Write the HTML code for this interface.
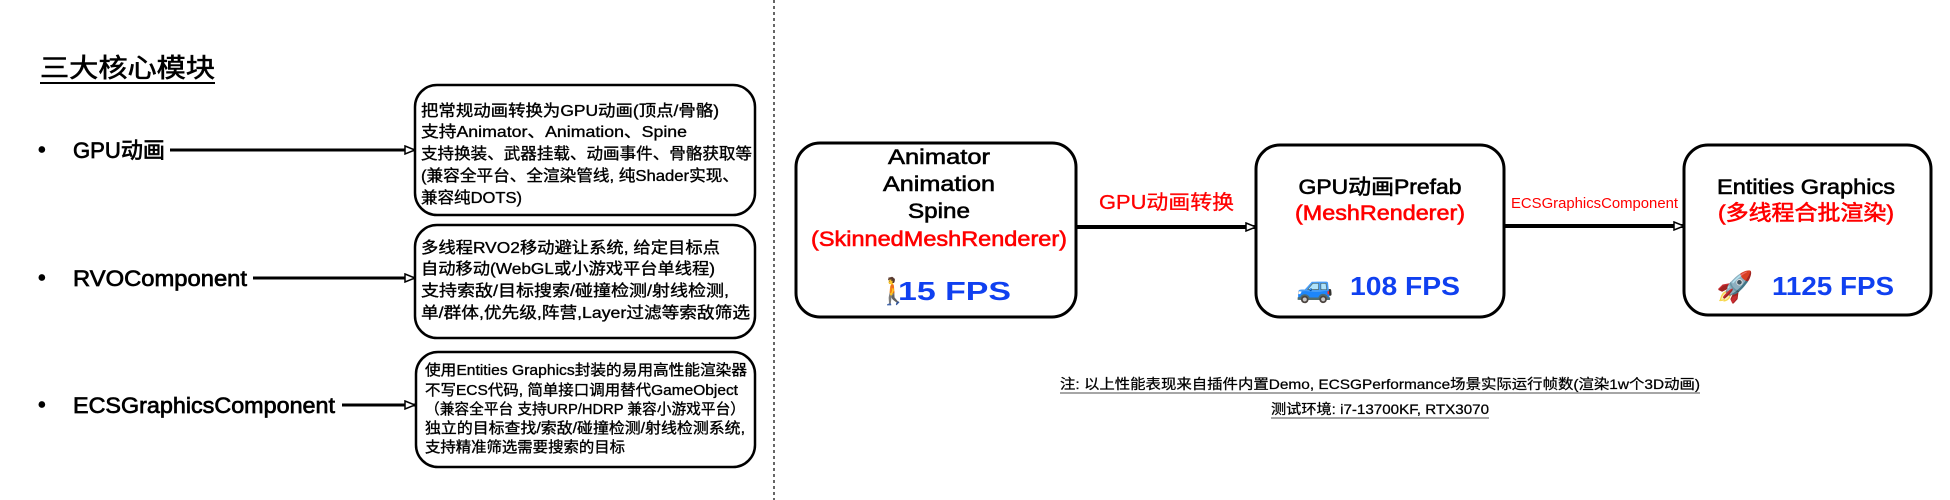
<!DOCTYPE html>
<html><head><meta charset="utf-8"><style>
html,body{margin:0;padding:0;background:#fff;width:1950px;height:500px;overflow:hidden}
svg{display:block}
text{font-family:"Liberation Sans","Noto Sans CJK SC",sans-serif;}
.b{stroke:currentColor;stroke-width:0.6}
.s{stroke:currentColor;stroke-width:0.35}
</style></head><body>
<svg width="1950" height="500" viewBox="0 0 1950 500" xmlns="http://www.w3.org/2000/svg">
<defs>
<marker id="ah" markerWidth="12" markerHeight="10" refX="11" refY="5" orient="auto" markerUnits="userSpaceOnUse">
<path d="M1,1 L11,5 L1,9 Z" fill="#fff" stroke="#000" stroke-width="1.5"/>
</marker>
</defs>
<line x1="774" y1="0" x2="774" y2="500" stroke="#333" stroke-width="1.5" stroke-dasharray="3,3"/>

<text x="40" y="77" font-size="26" class="b" color="#000" stroke="#000" stroke-width="0.6" textLength="175" lengthAdjust="spacingAndGlyphs">三大核心模块</text>
<line x1="40" y1="83" x2="215" y2="83" stroke="#000" stroke-width="2"/>

<g font-size="22" stroke="#000" stroke-width="0.7">
<text x="38" y="157">•</text>
<text x="73" y="158" textLength="92" lengthAdjust="spacingAndGlyphs">GPU动画</text>
<text x="38" y="285">•</text>
<text x="73" y="286" textLength="174" lengthAdjust="spacingAndGlyphs">RVOComponent</text>
<text x="38" y="412">•</text>
<text x="73" y="413" textLength="262" lengthAdjust="spacingAndGlyphs">ECSGraphicsComponent</text>
</g>
<g stroke="#000" stroke-width="3" marker-end="url(#ah)">
<line x1="170" y1="150" x2="415" y2="150"/>
<line x1="253" y1="278" x2="415" y2="278"/>
<line x1="342" y1="405" x2="415" y2="405"/>
</g>

<g fill="none" stroke="#000" stroke-width="2.5">
<rect x="415" y="85" width="340" height="130" rx="22"/>
<rect x="415" y="225" width="340" height="113" rx="22"/>
<rect x="416" y="352" width="339" height="115" rx="22"/>
</g>
<g font-size="16" stroke="#000" stroke-width="0.35">
<text x="421" y="116" textLength="298" lengthAdjust="spacingAndGlyphs">把常规动画转换为GPU动画(顶点/骨骼)</text>
<text x="421" y="137" textLength="266" lengthAdjust="spacingAndGlyphs">支持Animator、Animation、Spine</text>
<text x="421" y="159" textLength="331" lengthAdjust="spacingAndGlyphs">支持换装、武器挂载、动画事件、骨骼获取等</text>
<text x="421" y="181" textLength="318" lengthAdjust="spacingAndGlyphs">(兼容全平台、全渲染管线, 纯Shader实现、</text>
<text x="421" y="203" textLength="101" lengthAdjust="spacingAndGlyphs">兼容纯DOTS)</text>
<text x="421" y="253" textLength="299" lengthAdjust="spacingAndGlyphs">多线程RVO2移动避让系统, 给定目标点</text>
<text x="421" y="274" textLength="294" lengthAdjust="spacingAndGlyphs">自动移动(WebGL或小游戏平台单线程)</text>
<text x="421" y="296" textLength="308" lengthAdjust="spacingAndGlyphs">支持索敌/目标搜索/碰撞检测/射线检测,</text>
<text x="421" y="318" textLength="329" lengthAdjust="spacingAndGlyphs">单/群体,优先级,阵营,Layer过滤等索敌筛选</text>
</g>
<g font-size="15" stroke="#000" stroke-width="0.35">
<text x="425" y="375" textLength="322" lengthAdjust="spacingAndGlyphs">使用Entities Graphics封装的易用高性能渲染器</text>
<text x="425" y="395" textLength="313" lengthAdjust="spacingAndGlyphs">不写ECS代码, 简单接口调用替代GameObject</text>
<text x="425" y="414" textLength="320" lengthAdjust="spacingAndGlyphs">（兼容全平台 支持URP/HDRP 兼容小游戏平台）</text>
<text x="425" y="433" textLength="320" lengthAdjust="spacingAndGlyphs">独立的目标查找/索敌/碰撞检测/射线检测系统,</text>
<text x="425" y="452" textLength="200" lengthAdjust="spacingAndGlyphs">支持精准筛选需要搜索的目标</text>
</g>

<g fill="none" stroke="#000" stroke-width="3">
<rect x="796" y="143" width="280" height="174" rx="24"/>
<rect x="1256" y="145" width="248" height="172" rx="24"/>
<rect x="1684" y="145" width="247" height="170" rx="24"/>
</g>
<g stroke="#000" stroke-width="4" marker-end="url(#ah)">
<line x1="1076" y1="227" x2="1256" y2="227"/>
<line x1="1504" y1="226" x2="1684" y2="226"/>
</g>
<g font-size="21" text-anchor="middle" stroke-width="0.6">
<text x="939" y="164" stroke="#000" textLength="102" lengthAdjust="spacingAndGlyphs">Animator</text>
<text x="939" y="191" stroke="#000" textLength="112" lengthAdjust="spacingAndGlyphs">Animation</text>
<text x="939" y="218" stroke="#000" textLength="62" lengthAdjust="spacingAndGlyphs">Spine</text>
<text x="939" y="246" fill="#f00" stroke="#f00" textLength="256" lengthAdjust="spacingAndGlyphs">(SkinnedMeshRenderer)</text>
<text x="1380" y="194" stroke="#000" textLength="163" lengthAdjust="spacingAndGlyphs">GPU动画Prefab</text>
<text x="1380" y="220" fill="#f00" stroke="#f00" textLength="170" lengthAdjust="spacingAndGlyphs">(MeshRenderer)</text>
<text x="1806" y="194" stroke="#000" textLength="178" lengthAdjust="spacingAndGlyphs">Entities Graphics</text>
<text x="1806" y="220" fill="#f00" stroke="#f00" textLength="176" lengthAdjust="spacingAndGlyphs">(多线程合批渲染)</text>
</g>
<text x="1099" y="209" font-size="20" fill="#f00" stroke="#f00" stroke-width="0.3" textLength="135" lengthAdjust="spacingAndGlyphs">GPU动画转换</text>
<text x="1511" y="208" font-size="15" fill="#f00" textLength="167" lengthAdjust="spacingAndGlyphs">ECSGraphicsComponent</text>

<g font-size="26" font-weight="bold" fill="#1040f0">
<text x="877" y="300">🚶</text>
<text x="898" y="300" textLength="113" lengthAdjust="spacingAndGlyphs">15 FPS</text>
<text x="1296" y="297" font-size="30">🚙</text>
<text x="1350" y="295" textLength="110" lengthAdjust="spacingAndGlyphs">108 FPS</text>
<text x="1716" y="297" font-size="30">🚀</text>
<text x="1772" y="295" textLength="122" lengthAdjust="spacingAndGlyphs">1125 FPS</text>
</g>

<g font-size="14" stroke="#000" stroke-width="0.25">
<text x="1060" y="389" textLength="640" lengthAdjust="spacingAndGlyphs">注: 以上性能表现来自插件内置Demo, ECSGPerformance场景实际运行帧数(渲染1w个3D动画)</text>
<text x="1271" y="414" textLength="218" lengthAdjust="spacingAndGlyphs">测试环境: i7-13700KF, RTX3070</text>
</g>
<line x1="1060" y1="393" x2="1700" y2="393" stroke="#888" stroke-width="1.5"/>
<line x1="1271" y1="418" x2="1489" y2="418" stroke="#888" stroke-width="1.5"/>
</svg>
</body></html>
